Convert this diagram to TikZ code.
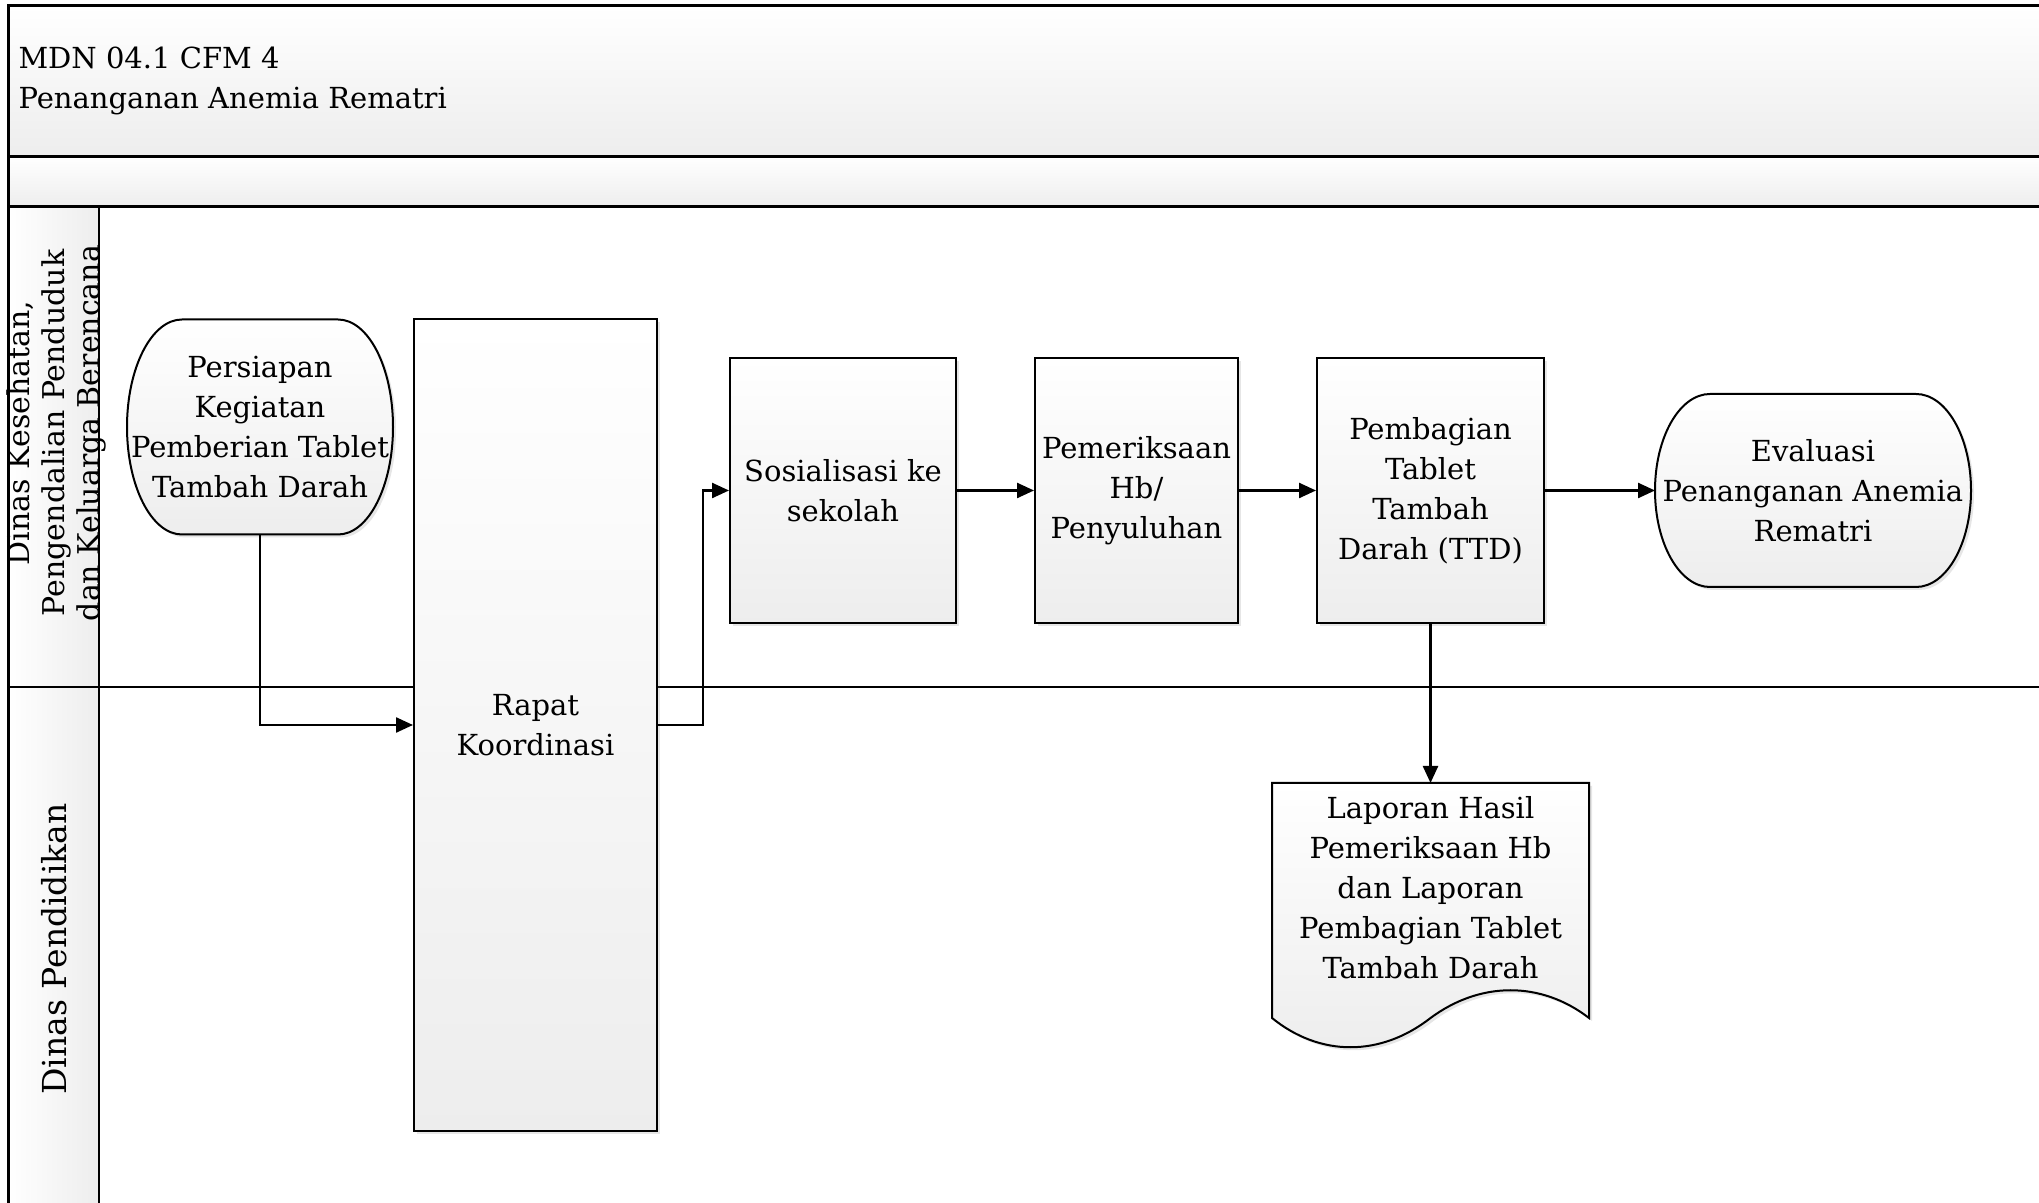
\documentclass[tikz,border=0pt]{standalone}
\usepackage{fontspec}
\setmainfont{DejaVu Serif}
\usetikzlibrary{arrows.meta, positioning, shadows}
\pgfdeclarelayer{lanes}
\pgfdeclarelayer{shapes}
\pgfsetlayers{lanes,shapes,main}

\begin{document}
\begin{tikzpicture}[
  x=1pt, y=1pt,
  font=\fontsize{29}{40}\selectfont,
  >={Triangle[length=17pt, width=15pt]},
  % Define shape styles
  shapefill/.style={
    draw,
    line width=2pt,
    top color=white,
    bottom color=gray!14,
    drop shadow={shadow xshift=3pt, shadow yshift=-3pt, opacity=0.2}
  },
  procbox/.style 2 args={
    shapefill,
    minimum width=#1,
    minimum height=#2,
    inner sep=0pt,
    align=center
  },
  terminal/.style 2 args={
    minimum width=#1,
    minimum height=#2,
    inner sep=0pt,
    outer sep=0pt,
    align=center
  },
  docbox/.style={
    minimum width=317pt,
    minimum height=210pt,
    inner sep=0pt,
    outer sep=0pt,
    align=center
  },
  lanelabel/.style={
    rotate=90,
    align=center
  },
  bandline/.style={
    line width=3pt
  },
  laneline/.style={
    line width=2pt
  },
  % Arrows style
  connector/.style={
    ->,
    line width=2.4pt
  }
]
\useasboundingbox (0,0) rectangle (2039,1202);

% -----------------------------------------------
% SWIMLANES
% -----------------------------------------------
\begin{pgfonlayer}{lanes}
  \shade[top color=white, bottom color=gray!14] (8,1045) rectangle (2045,1196);
  \shade[top color=white, bottom color=gray!14] (8,995) rectangle (2045,1045);
  \shade[left color=white, right color=gray!14] (8,-10) rectangle (99,995);
  \draw[bandline] (2045,1196) -- (8,1196) -- (8,-10);
  \draw[bandline] (8,1045) -- (2045,1045);
  \draw[bandline] (8,995) -- (2045,995);
  \draw[laneline] (8,515) -- (2045,515);
  \draw[laneline] (99,995) -- (99,-10);
\end{pgfonlayer}

\node[anchor=west, align=left] (title) at (15,1121) {MDN 04.1 CFM 4\\Penanganan Anemia Rematri};

\node[lanelabel, font=\fontsize{30}{35}\selectfont] (laneDinkes) at (56,769) {Dinas Kesehatan,\\Pengendalian Penduduk\\dan Keluarga Berencana};
\node[lanelabel, font=\fontsize{33}{38}\selectfont] (laneDisdik) at (54,253) {Dinas Pendidikan};

% -----------------------------------------------
% PROCESS FLOW
% -----------------------------------------------
\node[terminal={266pt}{215pt}] (persiapan) at (260,775) {Persiapan\\Kegiatan\\Pemberian Tablet\\Tambah Darah};

\node[procbox={243pt}{811pt}] (rapat) at (535.5,477) {Rapat\\Koordinasi};

\node[procbox={226pt}{265pt}] (sosialisasi) at (843,711.5) {Sosialisasi ke\\sekolah};

\node[procbox={203pt}{265pt}, right=77pt of sosialisasi] (pemeriksaan) {Pemeriksaan\\Hb/\\Penyuluhan};

\node[procbox={227pt}{265pt}, right=77pt of pemeriksaan] (pembagian) {Pembagian\\Tablet\\Tambah\\Darah (TTD)};

\node[terminal={316pt}{193pt}, right=110pt of pembagian] (evaluasi) {Evaluasi\\Penanganan Anemia\\Rematri};

\node[docbox, below=159pt of pembagian] (laporan) {Laporan Hasil\\Pemeriksaan Hb\\dan Laporan\\Pembagian Tablet\\Tambah Darah};

% Outlines of terminals and document
\begin{pgfonlayer}{shapes}
  \foreach \term/\ry in {persiapan/107.5, evaluasi/96.5} {
    \path[shapefill] ([xshift=55pt]\term.north west) -- ([xshift=-55pt]\term.north east)
      arc[start angle=90, end angle=-90, x radius=55pt, y radius=\ry pt]
      -- ([xshift=55pt]\term.south west)
      arc[start angle=270, end angle=90, x radius=55pt, y radius=\ry pt] -- cycle;
  }
  \path[shapefill] (laporan.north west) -- (laporan.north east)
    -- ([yshift=-25pt]laporan.south east)
    .. controls +(-48pt,37pt) and +(50pt,37pt) .. ([yshift=-25pt]laporan.south)
    .. controls +(-50pt,-39pt) and +(48pt,-39pt) .. ([yshift=-25pt]laporan.south west)
    -- cycle;
\end{pgfonlayer}

% -----------------------------------------------
% ARROWS AND CONNECTIONS
% -----------------------------------------------
\draw[connector] (persiapan.south) |- (rapat.west);
\draw[connector] (rapat.east) -- ++(45pt,0) |- (sosialisasi.west);
\draw[connector] (sosialisasi) -- (pemeriksaan);
\draw[connector] (pemeriksaan) -- (pembagian);
\draw[connector] (pembagian) -- (evaluasi);
\draw[connector] (pembagian) -- (laporan);

\end{tikzpicture}
\end{document}
